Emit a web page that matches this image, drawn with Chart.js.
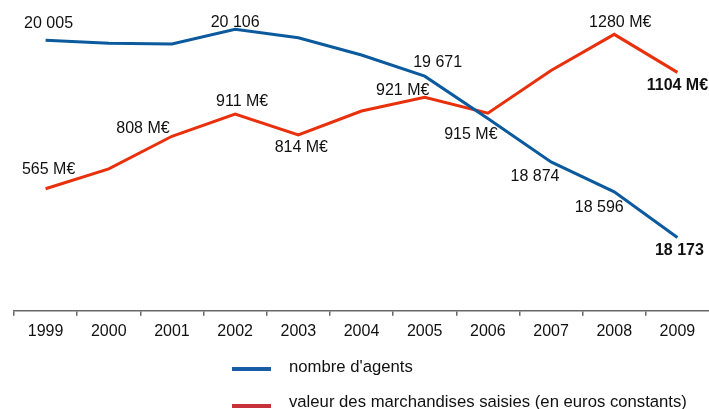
<!DOCTYPE html>
<html>
<head>
<meta charset="utf-8">
<script src="https://cdn.jsdelivr.net/npm/chart.js@4/dist/chart.umd.min.js"></script>
<style>
  html, body { margin: 0; padding: 0; background: #fff; }
  #wrap { width: 709px; height: 409px; position: relative; }
</style>
</head>
<body>
<div id="wrap"><canvas id="c" width="709" height="409"></canvas></div>
<script>
// ---- data ----
const years = ['1999','2000','2001','2002','2003','2004','2005','2006','2007','2008','2009'];
const agents = [20005, 19976, 19969, 20106, 20028, 19867, 19671, 19277, 18874, 18596, 18173];
const valeur = [565, 657, 808, 911, 814, 925, 989, 915, 1113, 1280, 1104];
const agentsLabels = ['20 005', null, null, '20 106', null, null, '19 671', null, '18 874', '18 596', '18 173'];
const valeurLabels = ['565 M€', null, '808 M€', '911 M€', '814 M€', null, '921 M€', '915 M€', null, '1280 M€', '1104 M€'];
const seriesNames = ["nombre d'agents", 'valeur des marchandises saisies (en euros constants)'];

// ---- layout / style ----
const BLUE = '#0b5a9e';
const RED = '#e8310c';
const FONT = '"Liberation Sans", Arial, sans-serif';
const labelOffsets = [
  [[3,-17],null,null,[0,-7],null,null,[13,-14],null,[-16,15],[-15,16],[2,13]],
  [[3,-19],null,[-29,-8],[7,-12],[3,13],null,[-22,-7],[-17,21],null,[6,-12],[0,13]]
];
const boldIdx = 10;

const dataLabelPlugin = {
  id: 'dataLabels',
  afterDatasetsDraw(chart) {
    const ctx = chart.ctx;
    const texts = [agentsLabels, valeurLabels];
    ctx.save();
    ctx.fillStyle = '#111';
    ctx.textAlign = 'center';
    ctx.textBaseline = 'middle';
    chart.data.datasets.forEach((ds, di) => {
      const meta = chart.getDatasetMeta(di);
      meta.data.forEach((pt, i) => {
        const t = texts[di][i];
        if (!t) return;
        const off = labelOffsets[di][i];
        ctx.font = (i === boldIdx ? 'bold ' : '') + '16px ' + FONT;
        ctx.fillText(t, pt.x + off[0], pt.y + off[1]);
      });
    });
    ctx.restore();
  }
};

const legendPlugin = {
  id: 'customLegend',
  afterDraw(chart) {
    const ctx = chart.ctx;
    const colors = ['#175ea6', '#c8303a'];
    const rows = [369, 406];
    const textY = [367, 402];
    ctx.save();
    chart.data.datasets.forEach((ds, i) => {
      ctx.strokeStyle = colors[i];
      ctx.lineWidth = 4;
      ctx.beginPath();
      ctx.moveTo(232, rows[i]);
      ctx.lineTo(271, rows[i]);
      ctx.stroke();
      ctx.fillStyle = '#111';
      ctx.font = '16.7px ' + FONT;
      ctx.textAlign = 'left';
      ctx.textBaseline = 'middle';
      ctx.fillText(ds.label, 289, textY[i]);
    });
    ctx.restore();
  }
};

new Chart(document.getElementById('c'), {
  type: 'line',
  data: {
    labels: years,
    datasets: [
      { label: seriesNames[0], data: agents, yAxisID: 'yA', borderColor: BLUE, borderWidth: 3, pointRadius: 0, tension: 0, fill: false },
      { label: seriesNames[1], data: valeur, yAxisID: 'yV', borderColor: RED, borderWidth: 3, pointRadius: 0, tension: 0, fill: false }
    ]
  },
  options: {
    responsive: false,
    animation: false,
    devicePixelRatio: 1,
    layout: { padding: { left: 14, right: 0, top: 0, bottom: 62 } },
    plugins: { legend: { display: false }, tooltip: { enabled: false } },
    scales: {
      x: {
        type: 'category',
        offset: true,
        grid: {
          display: true, offset: true, drawOnChartArea: false, tickLength: 5, lineWidth: 1.5,
          color: (c) => (c.tick === undefined || c.index >= years.length ? 'rgba(0,0,0,0)' : '#666')
        },
        border: { display: true, color: '#666', width: 1.5 },
        ticks: { color: '#111', font: { family: FONT, size: 16 }, padding: 6, maxRotation: 0, autoSkip: false }
      },
      yA: { display: false, min: 17492, max: 20378 },
      yV: { display: false, min: 0, max: 1439 }
    }
  },
  plugins: [dataLabelPlugin, legendPlugin]
});
</script>
</body>
</html>
